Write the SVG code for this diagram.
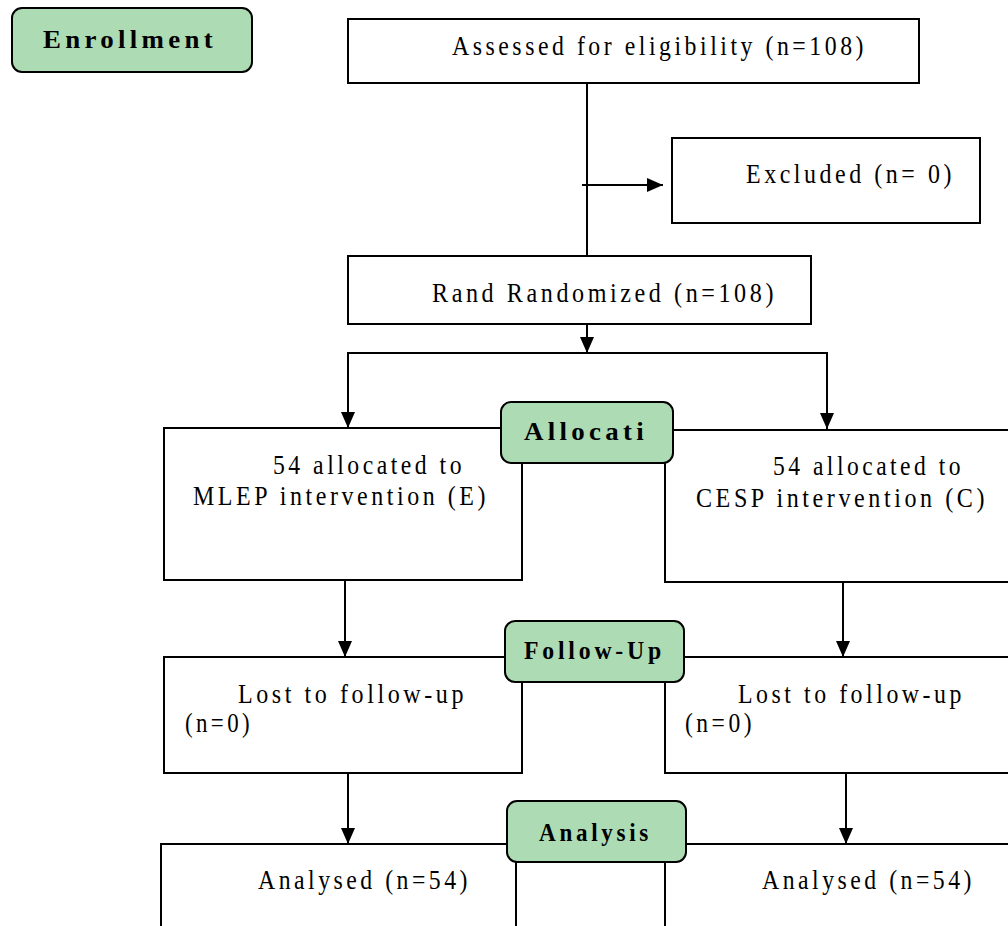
<svg xmlns="http://www.w3.org/2000/svg" width="1008" height="926" viewBox="0 0 1008 926">
<defs>
<style>
.box{fill:#fff;stroke:#000;stroke-width:2}
.badge{fill:#addbb4;stroke:#000;stroke-width:2}
.t{font-family:"Liberation Serif","Times New Roman",serif;font-size:27px;letter-spacing:4px;fill:#000}
.b{font-family:"Liberation Serif","Times New Roman",serif;font-size:25px;font-weight:bold;letter-spacing:4px;fill:#000}
.ln{fill:none;stroke:#000;stroke-width:2}
</style>
<marker id="ah" viewBox="0 0 16 14" refX="16" refY="7" markerWidth="16" markerHeight="14" markerUnits="userSpaceOnUse" orient="auto">
<path d="M0,0 L16,7 L0,14 Z" fill="#000"/>
</marker>
</defs>
<rect width="1008" height="926" fill="#fff"/>
<g id="connectors">
<line class="ln" x1="587" y1="83" x2="587" y2="256"/>
<line class="ln" x1="582" y1="185" x2="663" y2="185" marker-end="url(#ah)"/>
<line class="ln" x1="587" y1="324" x2="587" y2="353" marker-end="url(#ah)"/>
<polyline class="ln" points="348,428 348,353 827,353 827,430"/>
<line class="ln" x1="348" y1="353" x2="348" y2="428" marker-end="url(#ah)"/>
<line class="ln" x1="827" y1="353" x2="827" y2="429" marker-end="url(#ah)"/>
<line class="ln" x1="345" y1="580" x2="345" y2="657" marker-end="url(#ah)"/>
<line class="ln" x1="843" y1="582" x2="843" y2="657" marker-end="url(#ah)"/>
<line class="ln" x1="348" y1="773" x2="348" y2="844" marker-end="url(#ah)"/>
<line class="ln" x1="846" y1="773" x2="846" y2="844" marker-end="url(#ah)"/>
</g>
<g id="enrollment">
<rect class="badge" x="12" y="8" width="240" height="64" rx="10"/>
<text class="b" x="43" y="48" textLength="174" lengthAdjust="spacingAndGlyphs">Enrollment</text>
</g>
<g id="assessed">
<rect class="box" x="348" y="19" width="571" height="64"/>
<text class="t" x="452" y="55" textLength="415" lengthAdjust="spacingAndGlyphs">Assessed for eligibility (n=108)</text>
</g>
<g id="excluded">
<rect class="box" x="672" y="138" width="308" height="85"/>
<text class="t" x="746" y="183" textLength="209" lengthAdjust="spacingAndGlyphs">Excluded (n= 0)</text>
</g>
<g id="randomized">
<rect class="box" x="348" y="256" width="463" height="68"/>
<text class="t" x="432" y="302" textLength="345" lengthAdjust="spacingAndGlyphs">Rand Randomized (n=108)</text>
</g>
<g id="alloc-e">
<rect class="box" x="164" y="428" width="358" height="152"/>
<text class="t" x="273" y="474" textLength="192" lengthAdjust="spacingAndGlyphs">54 allocated to</text>
<text class="t" x="193" y="505" textLength="296" lengthAdjust="spacingAndGlyphs">MLEP intervention (E)</text>
</g>
<g id="alloc-c">
<rect class="box" x="665" y="430" width="350" height="152"/>
<text class="t" x="773" y="475" textLength="191" lengthAdjust="spacingAndGlyphs">54 allocated to</text>
<text class="t" x="696" y="507" textLength="292" lengthAdjust="spacingAndGlyphs">CESP intervention (C)</text>
</g>
<g id="allocation">
<rect class="badge" x="501" y="402" width="172" height="61" rx="10"/>
<text class="b" x="524" y="440" textLength="124" lengthAdjust="spacingAndGlyphs">Allocati</text>
</g>
<g id="lost-e">
<rect class="box" x="164" y="657" width="358" height="116"/>
<text class="t" x="238" y="703" textLength="229" lengthAdjust="spacingAndGlyphs">Lost to follow-up</text>
<text class="t" x="185" y="732" textLength="68" lengthAdjust="spacingAndGlyphs">(n=0)</text>
</g>
<g id="lost-c">
<rect class="box" x="665" y="657" width="350" height="116"/>
<text class="t" x="738" y="703" textLength="227" lengthAdjust="spacingAndGlyphs">Lost to follow-up</text>
<text class="t" x="685" y="732" textLength="70" lengthAdjust="spacingAndGlyphs">(n=0)</text>
</g>
<g id="followup">
<rect class="badge" x="505" y="621" width="179" height="61" rx="10"/>
<text class="b" x="524" y="659" textLength="141" lengthAdjust="spacingAndGlyphs">Follow-Up</text>
</g>
<g id="analysed-e">
<rect class="box" x="161" y="844" width="355" height="100"/>
<text class="t" x="258" y="889" textLength="213" lengthAdjust="spacingAndGlyphs">Analysed (n=54)</text>
</g>
<g id="analysed-c">
<rect class="box" x="665" y="844" width="350" height="100"/>
<text class="t" x="762" y="889" textLength="213" lengthAdjust="spacingAndGlyphs">Analysed (n=54)</text>
</g>
<g id="analysis">
<rect class="badge" x="507" y="801" width="179" height="61" rx="10"/>
<text class="b" x="539" y="841" textLength="113" lengthAdjust="spacingAndGlyphs">Analysis</text>
</g>
</svg>
